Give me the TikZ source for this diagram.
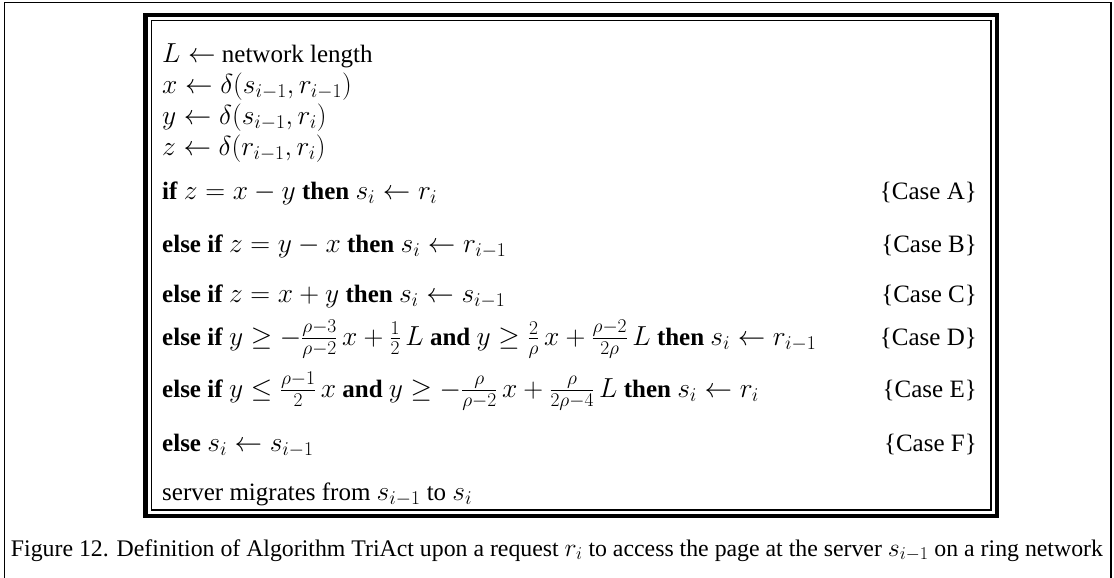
\RequirePackage{fix-cm}
\documentclass[tikz,border=0pt]{standalone}
\usepackage{amsmath}
\usepackage{fontspec}
\setmainfont{Liberation Serif}
% math set a little larger than the surrounding text
\DeclareMathSizes{25}{27.5}{19.5}{15}
\DeclareMathSizes{23.8}{25.8}{18}{14}
\tikzset{
  line/.style={anchor=base west, inner sep=0pt, font=\fontsize{25}{30}\selectfont},
  case/.style={anchor=base east, inner sep=0pt, font=\fontsize{25}{30}\selectfont},
  capt/.style={anchor=base, inner sep=0pt, font=\fontsize{23.8}{28}\selectfont},
  frame/.style={draw=black, line width=1.6pt},
  boxouter/.style={draw=black, line width=4.6pt},
  boxinner/.style={draw=black, line width=1.5pt}
}
\begin{document}
\begin{tikzpicture}[x=1pt,y=-1pt]
  \useasboundingbox (0,0) rectangle (1114,578);
  \fill[white] (0,0) rectangle (1114,578);
  % page frame (open at the bottom)
  \draw[frame] (4.5,600) -- (4.5,2.5) -- (1111,2.5) -- (1111,600);
  % double frame around the algorithm
  \draw[boxouter] (145.5,15) rectangle (997,516);
  \draw[boxinner] (151.5,20.5) rectangle (991,510);
  % algorithm lines
  \node[line] (l1) at (162,63)  {$L \leftarrow$ network length};
  \node[line] (l2) at (162,93)  {$x \leftarrow \delta(s_{i-1}, r_{i-1})$};
  \node[line] (l3) at (162,124) {$y \leftarrow \delta(s_{i-1}, r_i)$};
  \node[line] (l4) at (162,155) {$z \leftarrow \delta(r_{i-1}, r_i)$};
  \node[line] (ca) at (162,199) {\textbf{if} $z = x - y$ \textbf{then} $s_i \leftarrow r_i$};
  \node[line] (cb) at (162,252) {\textbf{else if} $z = y - x$ \textbf{then} $s_i \leftarrow r_{i-1}$};
  \node[line] (cc) at (162,302) {\textbf{else if} $z = x + y$ \textbf{then} $s_i \leftarrow s_{i-1}$};
  \node[line] (cd) at (162,345) {\textbf{else if} $y \geq -\frac{\rho-3}{\rho-2}\,x + \frac{1}{2}\,L$ \textbf{and} $y \geq \frac{2}{\rho}\,x + \frac{\rho-2}{2\rho}\,L$ \textbf{then} $s_i \leftarrow r_{i-1}$};
  \node[line] (ce) at (162,397) {\textbf{else if} $y \leq \frac{\rho-1}{2}\,x$ \textbf{and} $y \geq -\frac{\rho}{\rho-2}\,x + \frac{\rho}{2\rho-4}\,L$ \textbf{then} $s_i \leftarrow r_i$};
  \node[line] (cf) at (162,451) {\textbf{else} $s_i \leftarrow s_{i-1}$};
  \node[line] (mig) at (162,500) {server migrates from $s_{i-1}$ to $s_i$};
  % case labels
  \node[case] (la) at (977,199) {\{Case A\}};
  \node[case] (lb) at (977,252) {\{Case B\}};
  \node[case] (lc) at (977,302) {\{Case C\}};
  \node[case] (ld) at (977,345) {\{Case D\}};
  \node[case] (le) at (977,397) {\{Case E\}};
  \node[case] (lf) at (977,451) {\{Case F\}};
  % caption
  \node[capt] (cap) at (557,556) {Figure 12. Definition of Algorithm TriAct upon a request $r_i$ to access the page at the server $s_{i-1}$ on a ring network};
\end{tikzpicture}
\end{document}
